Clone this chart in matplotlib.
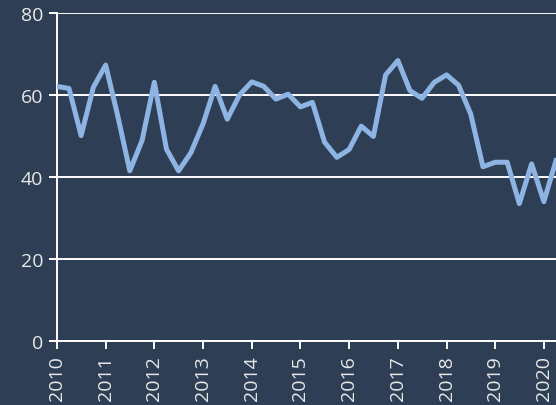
import numpy as np
import pandas as pd
import matplotlib
matplotlib.use("Agg")
import matplotlib.pyplot as plt
import matplotlib.dates as mdates

# quarterly values, 2010 Q1 .. 2020 Q2
values = [62.1, 61.6, 50.1, 61.9, 67.3, 55.0, 41.5, 48.9,
          63.1, 46.8, 41.5, 45.9, 53.0, 62.1, 54.1, 60.0,
          63.2, 62.1, 59.0, 60.2, 57.1, 58.2, 48.5, 44.8,
          46.7, 52.4, 49.9, 64.9, 68.4, 61.1, 59.2, 63.1,
          64.9, 62.4, 55.4, 42.5, 43.6, 43.6, 33.5, 43.2,
          34.0, 44.0]
dates = pd.date_range("2010-01-01", periods=len(values), freq="QS")
years = list(range(2010, 2021))
yticks = [0, 20, 40, 60, 80]

bg = "#2E3F55"
line_color = "#8DB4E2"

plt.rcParams["font.family"] = ["Open Sans", "DejaVu Sans"]

fig = plt.figure(figsize=(5.56, 4.06), dpi=100, facecolor=bg)
ax = fig.add_axes([57 / 556, 64 / 406, 1 - 57 / 556, 328 / 406])
ax.set_facecolor(bg)

ax.plot(dates, values, color=line_color, lw=3.6, solid_joinstyle="round", zorder=3)

ax.set_ylim(0, 80)
ax.set_yticks(yticks)
ax.set_xlim(pd.Timestamp("2010-01-01"), pd.Timestamp("2020-04-01"))
ax.set_xticks([pd.Timestamp(f"{y}-01-01") for y in years])
ax.set_xticklabels([str(y) for y in years], rotation=90)

ax.grid(axis="y", color="white", lw=1.4, zorder=1)
for s in ["top", "right"]:
    ax.spines[s].set_visible(False)
for s in ["left", "bottom"]:
    ax.spines[s].set_color("white")
    ax.spines[s].set_linewidth(1.4)

ax.tick_params(axis="both", colors="white", labelcolor="#E8E8E8", labelsize=14,
               length=6, width=1.4)
ax.tick_params(axis="y", pad=4)
ax.tick_params(axis="x", pad=4)

fig.savefig("out.png", dpi=100, facecolor=bg)
